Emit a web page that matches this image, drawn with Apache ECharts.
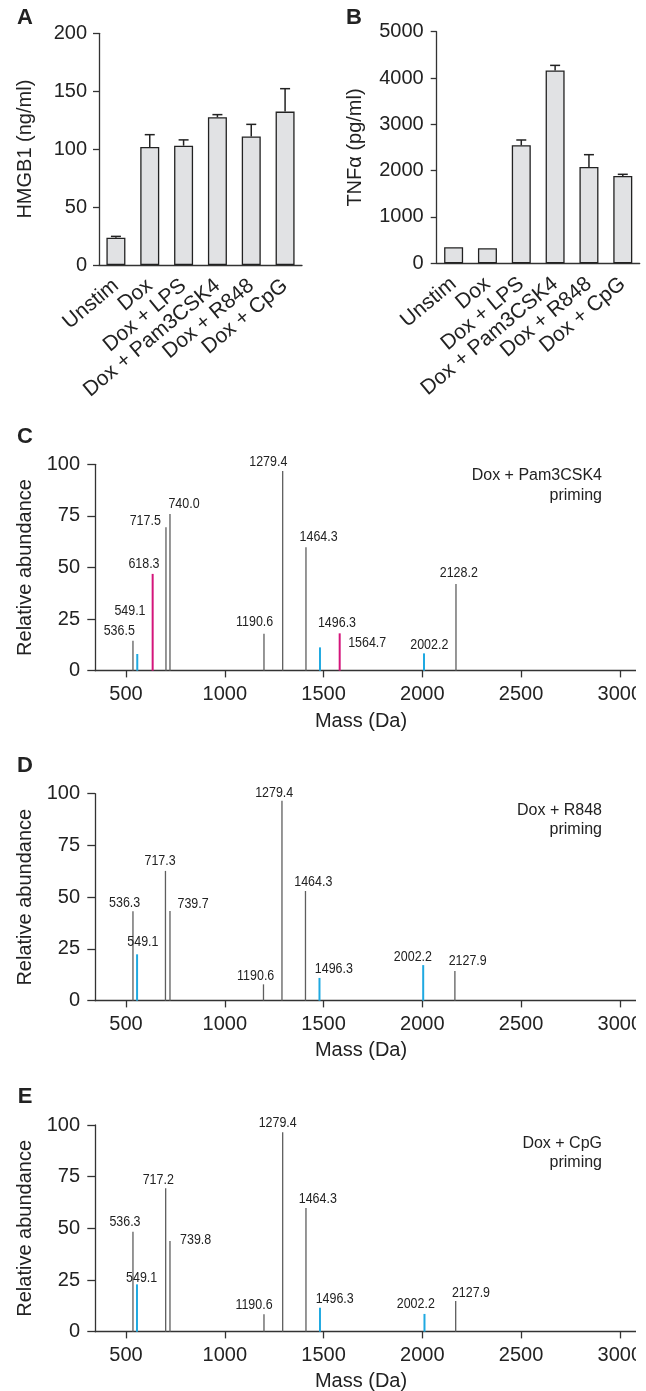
<!DOCTYPE html>
<html><head><meta charset="utf-8">
<script src="https://cdn.jsdelivr.net/npm/echarts@6/dist/echarts.min.js"></script>
<style>html,body{margin:0;padding:0;background:#fff}#c{width:646px;height:1391px}</style>
</head><body><div id="c"></div>
<script>
// ---------- data ----------
const treatments = ['Unstim', 'Dox', 'Dox + LPS', 'Dox + Pam3CSK4', 'Dox + R848', 'Dox + CpG'];
const hmgb1 = [23.6, 101.9, 103, 127.5, 111, 132.4];
const hmgb1Err = [1.1, 10.6, 5, 2.3, 10.4, 19.8];
const tnfa = [345, 324, 2547, 4165, 2079, 1885];
const tnfaErr = [0, 0, 115, 108, 266, 36];

const massTicks = [500, 1000, 1500, 2000, 2500, 3000];

const pamMass  = [535.2, 557.0, 634.9, 702.3, 722.6, 1198.5, 1293.2, 1411.1, 1482.0, 1581.8, 2008.6, 2170.6];
const pamAbund = [14.5, 8.1, 46.9, 69.5, 75.9, 17.9, 96.8, 59.8, 11.3, 18.1, 8.4, 42];
const pamLabel = ['536.5', '549.1', '618.3', '717.5', '740.0', '1190.6', '1279.4', '1464.3', '1496.3', '1564.7', '2002.2', '2128.2'];
const pamKind  = ['g', 'b', 'm', 'g', 'g', 'g', 'g', 'g', 'b', 'm', 'b', 'g'];

const r848Mass  = [535.2, 556.0, 699.7, 722.6, 1196.0, 1289.6, 1408.6, 1479.5, 2004.6, 2165.1];
const r848Abund = [43.2, 22.4, 62.7, 43.3, 7.9, 96.6, 53, 11, 17.2, 14.3];
const r848Label = ['536.3', '549.1', '717.3', '739.7', '1190.6', '1279.4', '1464.3', '1496.3', '2002.2', '2127.9'];
const r848Kind  = ['g', 'b', 'g', 'g', 'g', 'g', 'g', 'b', 'b', 'g'];

const cpgMass  = [535.2, 555.5, 700.8, 722.6, 1198.5, 1293.2, 1411.1, 1482.0, 2011.1, 2169.1];
const cpgAbund = [48.4, 22.9, 69.4, 43.9, 8.4, 96.5, 59.8, 11.6, 8.6, 14.9];
const cpgLabel = ['536.3', '549.1', '717.2', '739.8', '1190.6', '1279.4', '1464.3', '1496.3', '2002.2', '2127.9'];
const cpgKind  = ['g', 'b', 'g', 'g', 'g', 'g', 'g', 'b', 'b', 'g'];

// ---------- layout / style ----------
const pamOff  = [[-13.7,-10],[-7.3,-43],[-8.7,-9.7],[-20.7,-6.3],[14,-10],[-9.3,-12],[-14.4,-9.3],[12.6,-10.6],[17,-24.6],[27.5,10],[5.3,-8.3],[2.8,-10.7]];
const r848Off = [[-8.3,-8.3],[5.8,-12.3],[-5.4,-10.3],[23.1,-7],[-7.8,-8.3],[-7.8,-8],[7.8,-9],[14.4,-9],[-10.3,-8.3],[12.8,-10.3]];
const cpgOff  = [[-8,-9.4],[4.7,-7],[-7.4,-8.3],[25.7,-1],[-10,-9.3],[-5,-9],[11.8,-9],[14.7,-9],[-8.7,-10],[15.3,-8]];

const FONT = "'Liberation Sans', Arial, Helvetica, sans-serif";
const TXT = '#222';
const AX = '#333';
const COLOR = { g: '#5e5e5e', b: '#1fa9e1', m: '#d4157b' };
const WIDTH = { g: 1.3, b: 2, m: 2 };
const plain = v => String(v);

const chart = echarts.init(document.getElementById('c'), null, { renderer: 'canvas' });

function errRenderer(errs) {
  return function (params, api) {
    const i = params.dataIndex;
    const e = errs[i];
    if (!e) return null;
    const v = api.value(1);
    const p = api.coord([api.value(0), v]);
    const q = api.coord([api.value(0), v + e]);
    return { type: 'group', children: [
      { type: 'line', shape: { x1: p[0], y1: p[1], x2: q[0], y2: q[1] }, style: { stroke: TXT, lineWidth: 1.5 } },
      { type: 'line', shape: { x1: q[0] - 5, y1: q[1], x2: q[0] + 5, y2: q[1] }, style: { stroke: TXT, lineWidth: 1.5 } }
    ] };
  };
}

function peakRenderer(labels, kinds, offs) {
  return function (params, api) {
    const i = params.dataIndex;
    const x = api.value(0), y = api.value(1);
    const top = api.coord([x, y]);
    const base = api.coord([x, 0]);
    const w = WIDTH[kinds[i]];
    return { type: 'group', children: [
      { type: 'rect', shape: { x: top[0] - w / 2, y: top[1], width: w, height: base[1] - top[1] }, style: { fill: COLOR[kinds[i]] } },
      { type: 'text', x: top[0] + offs[i][0], y: top[1] + offs[i][1], scaleX: 0.83,
        style: { text: labels[i], fill: TXT, fontSize: 15, fontFamily: FONT, align: 'center', verticalAlign: 'middle' } }
    ] };
  };
}

function catAxis(gi) {
  return {
    type: 'category', gridIndex: gi, data: treatments,
    axisLine: { lineStyle: { color: AX, width: 1.3 } },
    axisTick: { alignWithLabel: true, length: 5, lineStyle: { color: AX, width: 1.3 } },
    axisLabel: { rotate: 40, interval: 0, margin: 18, fontSize: 21, fontFamily: FONT, color: TXT }
  };
}
function barYAxis(gi, max, interval, name, gap, margin) {
  return {
    type: 'value', gridIndex: gi, min: 0, max: max, interval: interval,
    name: name, nameLocation: 'middle', nameGap: gap,
    nameTextStyle: { fontSize: 20, fontFamily: FONT, color: TXT },
    axisLine: { show: true, lineStyle: { color: AX, width: 1.3 } },
    axisTick: { show: true, length: 6, lineStyle: { color: AX, width: 1.3 } },
    axisLabel: { margin: margin, fontSize: 20, fontFamily: FONT, color: TXT, formatter: plain },
    splitLine: { show: false }
  };
}
function massAxis(gi) {
  return {
    type: 'value', gridIndex: gi, min: 343, max: 3082,
    axisLine: { onZero: false, lineStyle: { color: AX, width: 1.3 } },
    axisTick: { show: true, length: 6.7, customValues: massTicks, lineStyle: { color: AX, width: 1.3 } },
    axisLabel: { customValues: massTicks, margin: 14, fontSize: 20, fontFamily: FONT, color: TXT, formatter: plain },
    splitLine: { show: false }
  };
}
function abundAxis(gi) {
  return {
    type: 'value', gridIndex: gi, min: 0, max: 100, interval: 25,
    name: 'Relative abundance', nameLocation: 'middle', nameGap: 60,
    nameTextStyle: { fontSize: 20, fontFamily: FONT, color: TXT },
    axisLine: { show: true, lineStyle: { color: AX, width: 1.3 } },
    axisTick: { show: true, length: 7.7, lineStyle: { color: AX, width: 1.3 } },
    axisLabel: { margin: 15, fontSize: 20, fontFamily: FONT, color: TXT, formatter: plain },
    splitLine: { show: false }
  };
}

function txt(x, y, text, opts) {
  return Object.assign({ type: 'text', x: x, y: y, z: 50,
    style: Object.assign({ text: text, fill: TXT, fontFamily: FONT, fontSize: 20, align: 'center', verticalAlign: 'middle' }, opts || {}) });
}

const option = {
  animation: false,
  backgroundColor: '#fff',
  grid: [
    { left: 99, top: 33.3, width: 203, height: 231.7 },
    { left: 436.7, top: 31.7, width: 203, height: 231.6 },
    { left: 95, top: 464.3, width: 541, height: 206.4 },
    { left: 95, top: 793.7, width: 541, height: 207 },
    { left: 95, top: 1125, width: 541, height: 206.7 }
  ],
  xAxis: [catAxis(0), catAxis(1), massAxis(2), massAxis(3), massAxis(4)],
  yAxis: [
    barYAxis(0, 200, 50, 'HMGB1 (ng/ml)', 64, 12),
    barYAxis(1, 5000, 1000, 'TNFα (pg/ml)', 71, 13),
    abundAxis(2), abundAxis(3), abundAxis(4)
  ],
  series: [
    { type: 'bar', xAxisIndex: 0, yAxisIndex: 0, data: hmgb1, barWidth: 19,
      itemStyle: { color: '#e1e2e4', borderColor: TXT, borderWidth: 1.3 } },
    { type: 'custom', xAxisIndex: 0, yAxisIndex: 0, z: 3, renderItem: errRenderer(hmgb1Err),
      data: hmgb1.map((v, i) => [i, v]) },
    { type: 'bar', xAxisIndex: 1, yAxisIndex: 1, data: tnfa, barWidth: 19,
      itemStyle: { color: '#e1e2e4', borderColor: TXT, borderWidth: 1.3 } },
    { type: 'custom', xAxisIndex: 1, yAxisIndex: 1, z: 3, renderItem: errRenderer(tnfaErr),
      data: tnfa.map((v, i) => [i, v]) },
    { type: 'custom', xAxisIndex: 2, yAxisIndex: 2, renderItem: peakRenderer(pamLabel, pamKind, pamOff),
      data: pamMass.map((m, i) => [m, pamAbund[i]]) },
    { type: 'custom', xAxisIndex: 3, yAxisIndex: 3, renderItem: peakRenderer(r848Label, r848Kind, r848Off),
      data: r848Mass.map((m, i) => [m, r848Abund[i]]) },
    { type: 'custom', xAxisIndex: 4, yAxisIndex: 4, renderItem: peakRenderer(cpgLabel, cpgKind, cpgOff),
      data: cpgMass.map((m, i) => [m, cpgAbund[i]]) }
  ],
  graphic: [
    txt(25, 18, 'A', { fontWeight: 'bold', fontSize: 22 }),
    txt(354, 18, 'B', { fontWeight: 'bold', fontSize: 22 }),
    txt(25, 437, 'C', { fontWeight: 'bold', fontSize: 22 }),
    txt(25, 766, 'D', { fontWeight: 'bold', fontSize: 22 }),
    txt(25, 1097, 'E', { fontWeight: 'bold', fontSize: 22 }),
    txt(602, 476, 'Dox + Pam3CSK4', { align: 'right', fontSize: 16 }),
    txt(602, 496, 'priming', { align: 'right', fontSize: 16 }),
    txt(602, 811, 'Dox + R848', { align: 'right', fontSize: 16 }),
    txt(602, 830, 'priming', { align: 'right', fontSize: 16 }),
    txt(602, 1144, 'Dox + CpG', { align: 'right', fontSize: 16 }),
    txt(602, 1163, 'priming', { align: 'right', fontSize: 16 }),
    txt(361, 721.7, 'Mass (Da)'),
    txt(361, 1050.7, 'Mass (Da)'),
    txt(361, 1381.7, 'Mass (Da)'),
    { type: 'rect', x: 636, y: 440, z: 100, shape: { width: 12, height: 951 }, style: { fill: '#fff' } }
  ]
};
chart.setOption(option);
</script>
</body></html>
